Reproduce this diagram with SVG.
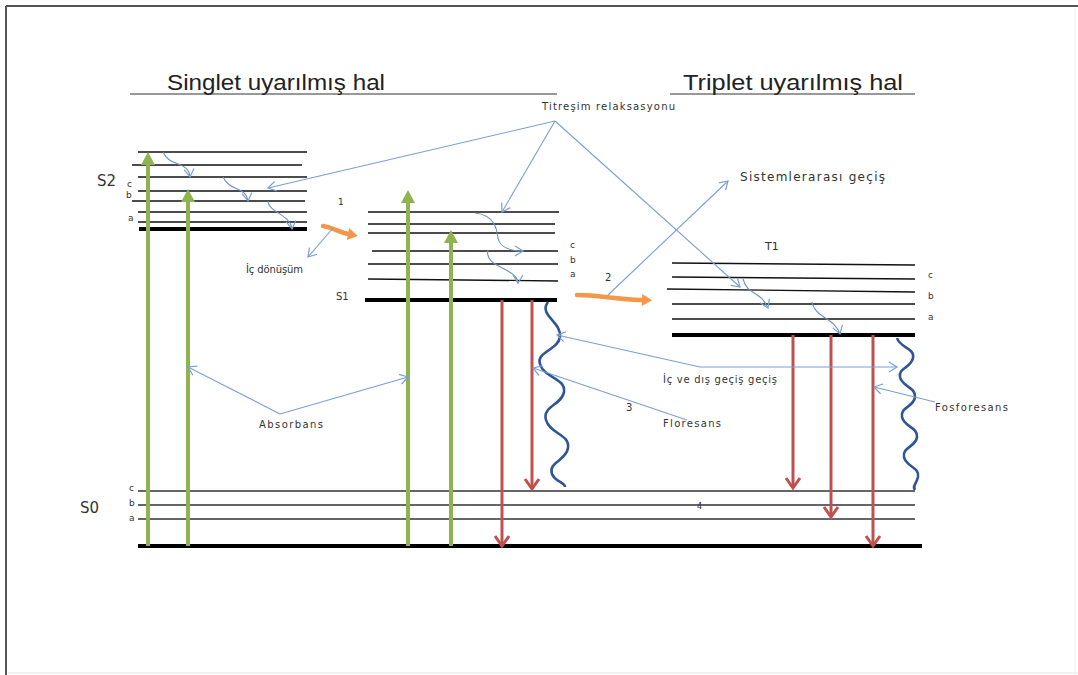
<svg xmlns="http://www.w3.org/2000/svg" width="1078" height="675" viewBox="0 0 1078 675">
<style>
.lvl{stroke:#111;stroke-width:1.3;fill:none}
.thick{stroke:#000;stroke-width:4;fill:none}
.s0{stroke:#333;stroke-width:1.3;fill:none}
.lab{font-family:"DejaVu Sans",Verdana,sans-serif;fill:#333}
.title{font-family:"Liberation Sans",Arial,sans-serif;font-size:22px;fill:#222}
.green{stroke:#8fb34e;stroke-width:4;fill:none}
.red{stroke:#c0504d;stroke-width:3;fill:none}
.blue{stroke:#7b9ed4;stroke-width:1.1;fill:none}
.relax{stroke:#6e8fc7;stroke-width:1.1;fill:none}
.wave{stroke:#2f5597;stroke-width:2.6;fill:none}
.orange{stroke:#f79646;stroke-width:4.5;fill:none;stroke-linecap:round}
</style>
<defs>
<marker id="bh" markerUnits="userSpaceOnUse" markerWidth="12" markerHeight="12" refX="8" refY="5" orient="auto-start-reverse" overflow="visible"><path d="M0,0 L8,5 L0,10" fill="none" stroke="#7b9ed4" stroke-width="1.2"/></marker>
<marker id="gh" markerUnits="userSpaceOnUse" markerWidth="16" markerHeight="16" refX="0" refY="7" orient="auto" overflow="visible"><path d="M0,0 L13,7 L0,14 z" fill="#8fb34e"/></marker>
<marker id="rh" markerUnits="userSpaceOnUse" markerWidth="16" markerHeight="16" refX="10" refY="7" orient="auto" overflow="visible"><path d="M0,0 L10,7 L0,14" fill="none" stroke="#c0504d" stroke-width="3"/></marker>
<marker id="oh" markerUnits="userSpaceOnUse" markerWidth="14" markerHeight="14" refX="0" refY="6" orient="auto" overflow="visible"><path d="M0,0 L10,6 L0,12 z" fill="#f79646"/></marker>
</defs>
<rect width="1078" height="675" fill="#fff"/>
<g id="frame">
<line x1="6" y1="6" x2="1078" y2="6" stroke="#555" stroke-width="2"/>
<line x1="6" y1="6" x2="6" y2="675" stroke="#555" stroke-width="2"/>
<line x1="8" y1="673" x2="1078" y2="673" stroke="#e6e6e6" stroke-width="1"/>
<line x1="1075" y1="8" x2="1075" y2="675" stroke="#eeeeee" stroke-width="1"/>
</g>
<g id="titles">
<line x1="130" y1="94" x2="557" y2="94" stroke="#777" stroke-width="1.5"/>
<line x1="670" y1="94" x2="915" y2="94" stroke="#777" stroke-width="1.5"/>
<text class="title" x="167" y="90" textLength="218" lengthAdjust="spacingAndGlyphs">Singlet uyarılmış hal</text>
<text class="title" x="683" y="90" textLength="220" lengthAdjust="spacingAndGlyphs">Triplet uyarılmış hal</text>
</g>
<g id="S2">
<line class="lvl" x1="138" y1="152" x2="307" y2="152"/>
<line class="lvl" x1="132" y1="165" x2="302" y2="165"/>
<line class="lvl" x1="138" y1="177" x2="307" y2="177"/>
<line class="lvl" x1="138" y1="191" x2="307" y2="191"/>
<line class="lvl" x1="132" y1="201" x2="305" y2="201"/>
<line class="lvl" x1="138" y1="212" x2="307" y2="212"/>
<line class="lvl" x1="138" y1="222" x2="307" y2="222"/>
<line class="thick" x1="139" y1="229" x2="307" y2="229"/>
<text class="lab" x="97" y="186" font-size="15" font-family="Liberation Sans,sans-serif">S2</text>
<text class="lab" x="127" y="187" font-size="9">c</text>
<text class="lab" x="126" y="198" font-size="9">b</text>
<text class="lab" x="128" y="221" font-size="9">a</text>
</g>
<g id="S1">
<line class="lvl" x1="368" y1="212" x2="559" y2="212"/>
<line class="lvl" x1="368" y1="224" x2="555" y2="224"/>
<line class="lvl" x1="368" y1="233" x2="555" y2="233"/>
<line class="lvl" x1="372" y1="251" x2="558" y2="251"/>
<line class="lvl" x1="368" y1="264" x2="558" y2="264"/>
<line class="lvl" x1="368" y1="279" x2="558" y2="281"/>
<line class="thick" x1="365" y1="300" x2="557" y2="300"/>
<text class="lab" x="336" y="300" font-size="10">S1</text>
<text class="lab" x="570" y="248" font-size="9">c</text>
<text class="lab" x="570" y="263" font-size="9">b</text>
<text class="lab" x="570" y="277" font-size="9">a</text>
<text class="lab" x="338" y="205" font-size="9">1</text>
</g>
<g id="T1">
<line class="lvl" x1="672" y1="263" x2="915" y2="265"/>
<line class="lvl" x1="672" y1="277" x2="915" y2="279"/>
<line class="lvl" x1="667" y1="289" x2="915" y2="292"/>
<line class="lvl" x1="672" y1="304" x2="915" y2="304"/>
<line class="lvl" x1="672" y1="319" x2="915" y2="319"/>
<line class="thick" x1="672" y1="335" x2="915" y2="335"/>
<text class="lab" x="765" y="250" font-size="11">T1</text>
<text class="lab" x="928" y="278" font-size="9">c</text>
<text class="lab" x="928" y="299" font-size="9">b</text>
<text class="lab" x="928" y="320" font-size="9">a</text>
<text class="lab" x="605" y="281" font-size="10">2</text>
</g>
<g id="S0">
<line class="s0" x1="138" y1="491" x2="915" y2="491"/>
<line class="s0" x1="138" y1="505" x2="915" y2="505"/>
<line class="s0" x1="138" y1="519" x2="915" y2="519"/>
<line class="thick" x1="138" y1="546" x2="922" y2="546"/>
<text class="lab" x="80" y="513" font-size="15" font-family="Liberation Sans,sans-serif">S0</text>
<text class="lab" x="129" y="491" font-size="9">c</text>
<text class="lab" x="129" y="506" font-size="9">b</text>
<text class="lab" x="129" y="521" font-size="9">a</text>
<text class="lab" x="697" y="509" font-size="8">4</text>
</g>
<g id="labels">
<text class="lab" x="542" y="110" font-size="10" textLength="133">Titreşim relaksasyonu</text>
<text class="lab" x="740" y="181" font-size="12" textLength="145">Sistemlerarası geçiş</text>
<text class="lab" x="246" y="273" font-size="10" textLength="57">İç dönüşüm</text>
<text class="lab" x="259" y="428" font-size="10" textLength="64">Absorbans</text>
<text class="lab" x="663" y="383" font-size="10" textLength="114">İç ve dış geçiş geçiş</text>
<text class="lab" x="663" y="427" font-size="10" textLength="58">Floresans</text>
<text class="lab" x="626" y="411" font-size="10">3</text>
<text class="lab" x="935" y="411" font-size="10" textLength="73">Fosforesans</text>
</g>
<g id="connectors">
<line class="green" x1="148" y1="546" x2="148" y2="165" marker-end="url(#gh)"/>
<line class="green" x1="188" y1="546" x2="188" y2="202" marker-end="url(#gh)"/>
<line class="green" x1="408" y1="546" x2="408" y2="203" marker-end="url(#gh)"/>
<line class="green" x1="451" y1="546" x2="451" y2="243" marker-end="url(#gh)"/>
<line class="red" x1="502" y1="300" x2="502" y2="546" marker-end="url(#rh)"/>
<line class="red" x1="532" y1="300" x2="532" y2="489" marker-end="url(#rh)"/>
<line class="red" x1="793" y1="335" x2="793" y2="488" marker-end="url(#rh)"/>
<line class="red" x1="831" y1="335" x2="831" y2="517" marker-end="url(#rh)"/>
<line class="red" x1="873" y1="335" x2="873" y2="546" marker-end="url(#rh)"/>
<path class="wave" d="M548,302 C538,315 562,322 560,337 C558,350 536,352 540,364 C544,378 566,378 564,392 C562,405 542,406 546,420 C550,434 570,434 568,448 C566,461 548,462 552,474 C555,482 565,482 565,487"/>
<path class="wave" d="M897,338 C900,348 915,348 913,358 C911,368 898,368 900,377 C902,387 916,387 915,397 C914,407 900,407 902,417 C904,427 918,427 917,437 C916,447 902,447 904,457 C906,467 920,467 918,477 C916,485 912,486 915,490"/>
<path class="orange" d="M323,226 C335,228 338,232 348,234" marker-end="url(#oh)"/>
<path class="orange" d="M577,295 C600,295 612,299 642,300" marker-end="url(#oh)"/>
<path class="relax" d="M163,152 C170,168 188,160 190,177" marker-end="url(#bh)"/>
<path class="relax" d="M223,177 C230,192 246,186 248,201" marker-end="url(#bh)"/>
<path class="relax" d="M268,201 C268,212 290,214 292,229" marker-end="url(#bh)"/>
<path class="relax" d="M475,213 C495,215 497,230 498,238 C500,248 512,251 523,251" marker-end="url(#bh)"/>
<path class="relax" d="M488,250 C485,262 500,266 508,271 C515,275 518,279 518,283" marker-end="url(#bh)"/>
<path class="relax" d="M743,279 C748,296 760,290 768,308" marker-end="url(#bh)"/>
<path class="relax" d="M812,302 C815,318 835,318 840,334" marker-end="url(#bh)"/>
<line class="blue" x1="555" y1="121" x2="268" y2="188" marker-end="url(#bh)"/>
<line class="blue" x1="555" y1="121" x2="502" y2="212" marker-end="url(#bh)"/>
<line class="blue" x1="555" y1="121" x2="740" y2="287" marker-end="url(#bh)"/>
<line class="blue" x1="608" y1="295" x2="728" y2="181" marker-end="url(#bh)"/>
<line class="blue" x1="333" y1="228" x2="308" y2="257" marker-end="url(#bh)"/>
<line class="blue" x1="280" y1="414" x2="188" y2="367" marker-end="url(#bh)"/>
<line class="blue" x1="280" y1="414" x2="408" y2="377" marker-end="url(#bh)"/>
<path class="blue" d="M557,335 L700,367 L897,367" marker-start="url(#bh)" marker-end="url(#bh)"/>
<line class="blue" x1="687" y1="420" x2="533" y2="368" marker-end="url(#bh)"/>
<line class="blue" x1="935" y1="402" x2="874" y2="387" marker-end="url(#bh)"/>
</g>
</svg>
